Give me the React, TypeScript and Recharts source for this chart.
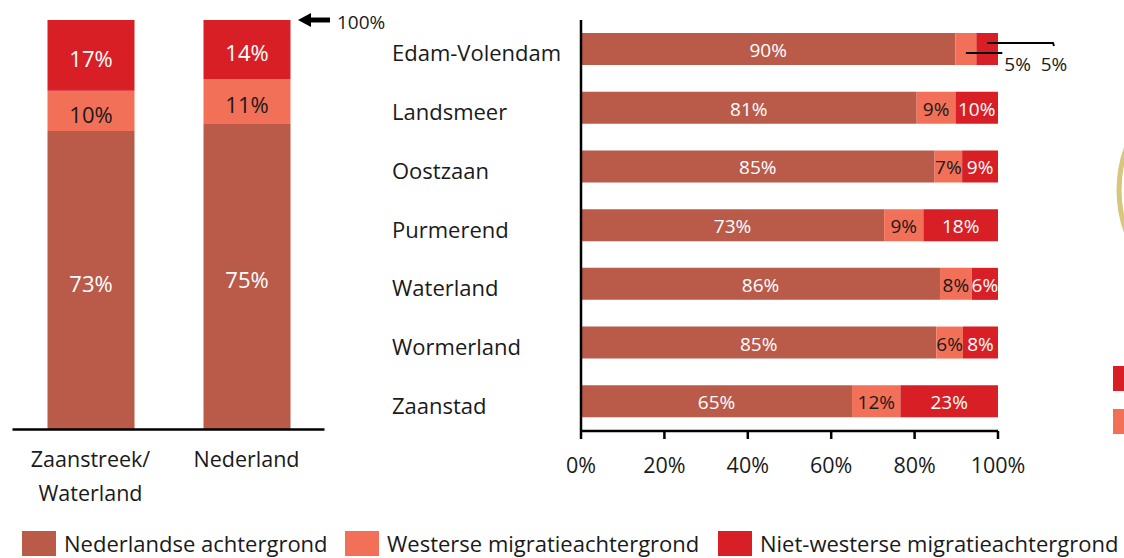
import React from 'react';
import { BarChart, Bar, XAxis, YAxis, LabelList } from 'recharts';

const FONT = '"Open Sans", "Noto Sans", sans-serif';
const TEXT = '#1a1a1a';
const C_NL = '#BA5A49';
const C_W = '#F27058';
const C_NW = '#D81F26';

const seriesNames = ['Nederlandse achtergrond', 'Westerse migratieachtergrond', 'Niet-westerse migratieachtergrond'];

const regionCategories = ['Zaanstreek/\nWaterland', 'Nederland'];
const regionDutch = [72.9, 74.8];
const regionWestern = [9.8, 10.8];
const regionNonWestern = [17.3, 14.4];

const municipalities = ['Edam-Volendam', 'Landsmeer', 'Oostzaan', 'Purmerend', 'Waterland', 'Wormerland', 'Zaanstad'];
const muniDutch = [89.8, 80.5, 84.8, 72.7, 86.1, 85.2, 65.0];
const muniWestern = [5.0, 9.3, 6.6, 9.4, 7.6, 6.4, 11.6];
const muniNonWestern = [5.2, 10.2, 8.6, 17.9, 6.3, 8.4, 23.4];

const percentTicks = [0, 20, 40, 60, 80, 100];
const topMarkerLabel = '100%';

const regionData = regionCategories.map((name, i) => ({
  name,
  nl: regionDutch[i],
  w: regionWestern[i],
  nw: regionNonWestern[i],
}));

const muniData = municipalities.map((name, i) => ({
  name,
  nl: muniDutch[i],
  w: muniWestern[i],
  nw: muniNonWestern[i],
}));

const pct = (v: number) => `${Math.round(v)}%`;

const makeCenterLabel = (fill: string, size: number, dyExtra: number) => (props: any) => {
  const { x, y, width, height, value } = props;
  return (
    <text
      x={x + width / 2}
      y={y + height / 2 + dyExtra}
      fill={fill}
      fontSize={size}
      fontFamily={FONT}
      textAnchor="middle"
      dominantBaseline="central"
    >
      {pct(value)}
    </text>
  );
};

const RegionTick = (props: any) => {
  const { x, y, payload } = props;
  const lines = String(payload.value).split('\n');
  return (
    <g>
      {lines.map((ln, i) => (
        <text
          key={i}
          x={x}
          y={y + 29 + i * 34}
          fill={TEXT}
          fontSize={21.5}
          fontFamily={FONT}
          textAnchor="middle"
          dominantBaseline="central"
        >
          {ln}
        </text>
      ))}
    </g>
  );
};

// Left-aligned category labels, as in the reference
const MuniTick = (props: any) => {
  const { y, payload } = props;
  return (
    <text x={22} y={y + 3} fill={TEXT} fontSize={22} fontFamily={FONT} textAnchor="start" dominantBaseline="central">
      {payload.value}
    </text>
  );
};

const muniWesternLabel = (props: any) => {
  const { x, y, width, height, value, index } = props;
  const cy = y + height / 2;
  if (index === 0) {
    const end = x + width;
    return (
      <g>
        <line x1={x + width / 2} y1={cy + 4} x2={end + 26} y2={cy + 4} stroke="#000" strokeWidth={2} />
        <text x={end + 28} y={cy + 15} fill={TEXT} fontSize={19} fontFamily={FONT} textAnchor="start" dominantBaseline="central">
          {pct(value)}
        </text>
      </g>
    );
  }
  return (
    <text x={x + width / 2} y={cy + 1} fill={TEXT} fontSize={19} fontFamily={FONT} textAnchor="middle" dominantBaseline="central">
      {pct(value)}
    </text>
  );
};

const muniNonWesternLabel = (props: any) => {
  const { x, y, width, height, value, index } = props;
  const cy = y + height / 2;
  if (index === 0) {
    const end = x + width;
    return (
      <g>
        <polyline
          points={`${x + width / 2},${cy - 6} ${end + 55},${cy - 6} ${end + 56},${cy - 3}`}
          fill="none"
          stroke="#000"
          strokeWidth={2}
        />
        <text x={end + 56} y={cy + 15} fill={TEXT} fontSize={19} fontFamily={FONT} textAnchor="middle" dominantBaseline="central">
          {pct(value)}
        </text>
      </g>
    );
  }
  return (
    <text x={x + width / 2} y={cy + 1} fill="#fff" fontSize={19} fontFamily={FONT} textAnchor="middle" dominantBaseline="central">
      {pct(value)}
    </text>
  );
};

const legendItems = [
  { name: seriesNames[0], color: C_NL, left: 22 },
  { name: seriesNames[1], color: C_W, left: 345 },
  { name: seriesNames[2], color: C_NW, left: 718 },
];

export default function App() {
  return (
    <div style={{ position: 'absolute', left: 0, top: 0, width: 1124, height: 558, background: '#fff', overflow: 'hidden', fontFamily: FONT }}>
      <div style={{ position: 'absolute', left: 0, top: 0 }}>
        <BarChart
          width={340}
          height={558}
          data={regionData}
          margin={{ top: 20, right: 15.5, bottom: 48.5, left: 12.5 }}
        >
          <YAxis hide domain={[0, 100]} type="number" />
          <XAxis
            dataKey="name"
            height={80}
            axisLine={{ stroke: '#000', strokeWidth: 2.5 }}
            tickLine={false}
            tickSize={0}
            tickMargin={0}
            tick={<RegionTick />}
            interval={0}
          />
          <Bar dataKey="nl" stackId="a" fill={C_NL} barSize={87} isAnimationActive={false} name={seriesNames[0]}>
            <LabelList dataKey="nl" content={makeCenterLabel('#fff', 22, 3)} />
          </Bar>
          <Bar dataKey="w" stackId="a" fill={C_W} barSize={87} isAnimationActive={false} name={seriesNames[1]}>
            <LabelList dataKey="w" content={makeCenterLabel(TEXT, 22, 3)} />
          </Bar>
          <Bar dataKey="nw" stackId="a" fill={C_NW} barSize={87} isAnimationActive={false} name={seriesNames[2]}>
            <LabelList dataKey="nw" content={makeCenterLabel('#fff', 22, 3)} />
          </Bar>
        </BarChart>
      </div>

      <div style={{ position: 'absolute', left: 370, top: 0 }}>
        <BarChart
          width={700}
          height={558}
          data={muniData}
          layout="vertical"
          margin={{ top: 20, right: 72, bottom: 87, left: 0 }}
        >
          <XAxis
            type="number"
            domain={[0, 100]}
            ticks={percentTicks}
            tickFormatter={(v: number) => `${v}%`}
            height={40}
            axisLine={{ stroke: '#000', strokeWidth: 2.5 }}
            tickLine={{ stroke: '#000', strokeWidth: 2.5 }}
            tickSize={8}
            tickMargin={19}
            tick={{ fill: TEXT, fontSize: 21.5, fontFamily: FONT }}
            interval={0}
          />
          <YAxis
            type="category"
            dataKey="name"
            width={211}
            axisLine={{ stroke: '#000', strokeWidth: 2.5 }}
            tickLine={false}
            tickSize={6}
            tickMargin={12}
            tick={<MuniTick />}
            interval={0}
          />
          <Bar dataKey="nl" stackId="a" fill={C_NL} barSize={32} isAnimationActive={false} name={seriesNames[0]}>
            <LabelList dataKey="nl" content={makeCenterLabel('#fff', 19, 1)} />
          </Bar>
          <Bar dataKey="w" stackId="a" fill={C_W} barSize={32} isAnimationActive={false} name={seriesNames[1]}>
            <LabelList dataKey="w" content={muniWesternLabel} />
          </Bar>
          <Bar dataKey="nw" stackId="a" fill={C_NW} barSize={32} isAnimationActive={false} name={seriesNames[2]}>
            <LabelList dataKey="nw" content={muniNonWesternLabel} />
          </Bar>
        </BarChart>
      </div>

      <svg width={1124} height={558} style={{ position: 'absolute', left: 0, top: 0, pointerEvents: 'none' }}>
        <line x1={309} y1={20} x2={330} y2={20} stroke="#000" strokeWidth={5} />
        <polygon points="298,20 311,13 311,27" fill="#000" />
        <text x={337} y={22} fill={TEXT} fontSize={19} fontFamily={FONT} dominantBaseline="central">
          {topMarkerLabel}
        </text>
        <circle cx={1244} cy={190} r={125} fill="none" stroke="#D6C67E" strokeWidth={5} />
        <rect x={1113} y={366} width={12} height={25} fill={C_NW} />
        <rect x={1113} y={409} width={12} height={25} fill={C_W} />
      </svg>

      {legendItems.map((it) => (
        <div
          key={it.name}
          style={{ position: 'absolute', left: it.left, top: 531, height: 25, display: 'flex', alignItems: 'center' }}
        >
          <div style={{ width: 34, height: 25, background: it.color }} />
          <span style={{ marginLeft: 8, fontSize: 22, color: TEXT, fontFamily: FONT, whiteSpace: 'nowrap', lineHeight: '25px' }}>
            {it.name}
          </span>
        </div>
      ))}
    </div>
  );
}
